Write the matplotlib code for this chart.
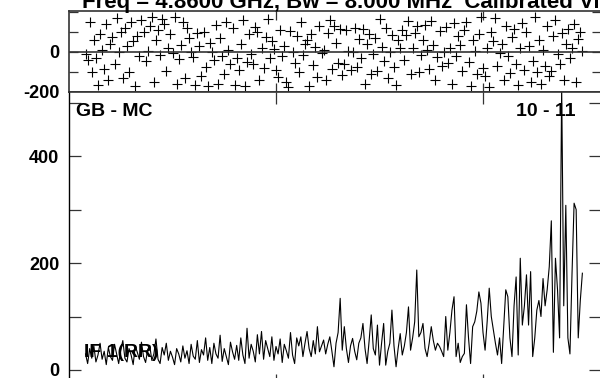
import matplotlib
matplotlib.use("Agg")
import matplotlib.pyplot as plt
import numpy as np

plt.rcParams['font.family'] = ['Liberation Sans', 'DejaVu Sans']

# ---- data ----
first_channel = 8
amplitude = [
    # ch 8-20
    30, 12, 40, 22, 45, 15, 28, 50, 20, 35, 10, 42, 25,
    # ch 21-40
    18, 48, 30, 12, 38, 55, 22, 15, 40, 28, 10, 45, 33, 20, 52, 25, 14, 38, 46, 18,
    # ch 41-60
    30, 58, 20, 12, 42, 28, 50, 18, 35, 24, 10, 40, 30, 15, 45, 22, 36, 12, 48, 26,
    # ch 61-80
    20, 55, 14, 38, 28, 60, 18, 42, 12, 50, 30, 22, 65, 16, 40, 25, 10, 52, 34, 20,
    # ch 81-100
    46, 18, 60, 28, 12, 78, 22, 48, 35, 15, 66, 30, 72, 20, 55, 40, 25, 62, 18, 44,
    # ch 101-111
    30, 58, 14, 48, 36, 22, 70, 28, 12, 60, 45,
    # ch 112-131
    62, 25, 50, 72, 40, 25, 55, 30, 81, 34, 45, 56, 30, 48, 62, 35, 6, 50, 70, 134,
    # ch 132-151
    37, 81, 40, 14, 45, 59, 35, 19, 50, 60, 87, 40, 12, 55, 103, 40, 28, 84, 9, 50,
    # ch 152-171
    87, 9, 35, 50, 112, 45, 6, 40, 68, 28, 45, 70, 118, 37, 60, 90, 187, 62, 70, 87,
    # ch 172-191
    40, 25, 50, 81, 55, 37, 50, 44, 35, 25, 100, 37, 70, 112, 137, 25, 50, 14, 25, 31,
    # ch 192-211
    122, 60, 12, 81, 90, 110, 146, 125, 70, 37, 90, 153, 100, 75, 50, 28, 60, 12, 80, 150,
    # ch 212-231
    137, 60, 25, 120, 174, 28, 209, 84, 120, 178, 84, 184, 25, 60, 112, 130, 100, 171, 120, 150,
    # ch 232-248
    193, 279, 33, 209, 150, 60, 530, 120, 308, 60, 30, 180, 312, 300, 60, 130, 181,
]
phase = [
    -10, -40, 150, -100, 60, -30, -165, 90, 10, -85, 140, -140, 40,
    75, -60, 170, 0, 100, -130, 120, 30, -100, 150, 55, -170, 80, -20, 160, 100, -45, 5, 130, 175,
    -150, 60, 110, -15, 165, 140, -95, 20, 90, -5, 175, -160, -35, 35, 150, -130, 120, 70, 0, -25,
    -165, 95, 30, -120, 100, -75, -170, 45, 0, -40, 135, -160, 70, -20, -110, 150, 10, -60, 120, -165,
    -30, -90, 40, 160, -170, -50, 90, -10, -60, 125, 100, -140, 20, -80, 75, 165, -30, 55, 15, -90,
    -125, 110, -20, 30, -150, -175, 105, 0, -55, 80, -100, 150, -15, 40, 60, -170, 90, -65, 25, -125,
    130, -5, 10, -140, 95, 160, -85, 130, 45, -55, 115, -115, -60, 110, 5, -90, 0, 120, -75, 65,
    -30, 115, -160, 40, 90, -110, -10, 70, -95, 165, 25, -45, 120, -130, 0, 85, -75, -165, 60, 20,
    110, -40, 85, 155, -110, 20, 95, 130, -100, -15, 60, 135, 10, -85, 155, 35, -140, -25, 105, -70,
    0, 125, -55, 20, -160, 145, -20, 80, 35, -95, 110, 150, -50, -170, 60, 5, -110, 90, 175, -80,
    -120, 20, -175, 100, 55, 170, -70, -5, 40, -140, 130, -20, -105, 75, 115, -60, -165, 20, 145, -90,
    100, 30, -150, -45, 175, -100, 60, -160, 10, -70, 130, -120, -95, 80, 160, -10, -60, 95, -140, 40,
    115, -30, 20, 140, -150, 65, 100, 5,
]
phase_ticks = [-200, -100, 0, 100, 200]
phase_labels = ["-200", "", "0", "", ""]
amp_ticks = [0, 100, 200, 300, 400, 500]
amp_labels = ["0", "", "200", "", "400", ""]
chan_ticks = [100, 200]
title = "Freq = 4.8600 GHz, Bw = 8.000 MHz  Calibrated Vis"
baseline_label = "GB - MC"
time_label = "10 - 11"
if_label = "IF 1(RR)"

channels = np.arange(first_channel, first_channel + len(amplitude))

W, H = 600, 378
fig = plt.figure(figsize=(6, 3.78), dpi=100)

def rect(x0, y0, x1, y1):
    return [x0 / W, 1 - y1 / H, (x1 - x0) / W, (y1 - y0) / H]

frame_col = '#333333'
ax1 = fig.add_axes(rect(69, 11, 601, 92))
ax2 = fig.add_axes(rect(69, 92, 601, 386))

# phase panel
ax1.plot(channels, phase, linestyle='none', marker='+', color='black',
         markersize=7, markeredgewidth=0.8)
ax1.axhline(0, color=frame_col, lw=1.2)
ax1.set_xlim(0, 257)
ax1.set_ylim(-200, 205)
ax1.set_yticks(phase_ticks)
ax1.set_yticklabels(phase_labels)
ax1.set_xticks(chan_ticks)
ax1.set_xticklabels([])
ax1.tick_params(direction='in', length=6.5, width=0.9, color=frame_col,
                top=True, right=True, labelsize=13, pad=7)

# amplitude panel
ax2.plot(channels, amplitude, color='black', lw=0.8)
ax2.set_xlim(0, 257)
ax2.set_ylim(-30, 520)
ax2.set_yticks(amp_ticks)
ax2.set_yticklabels(amp_labels)
ax2.set_xticks(chan_ticks)
ax2.set_xticklabels([])
ax2.tick_params(direction='in', length=8.6, width=0.9, color=frame_col,
                top=True, right=True, labelsize=13, pad=7)

for ax in (ax1, ax2):
    for sp in ax.spines.values():
        sp.set_color(frame_col)
        sp.set_linewidth(1.2)
    for lab in ax.get_yticklabels():
        lab.set_fontweight('bold')
ax2.spines['left'].set_color('black')
ax2.spines['left'].set_linewidth(1.0)

fig.text(82 / W, 1 - 8 / H, title, fontsize=16, fontweight='bold',
         ha='left', va='baseline')
fig.text(76 / W, 1 - 116 / H, baseline_label, fontsize=14, fontweight='bold',
         ha='left', va='baseline')
fig.text(576 / W, 1 - 116 / H, time_label, fontsize=14, fontweight='bold',
         ha='right', va='baseline')
fig.text(84 / W, 1 - 357 / H, if_label, fontsize=14, fontweight='bold',
         ha='left', va='baseline')

fig.savefig('out.png', dpi=100)
